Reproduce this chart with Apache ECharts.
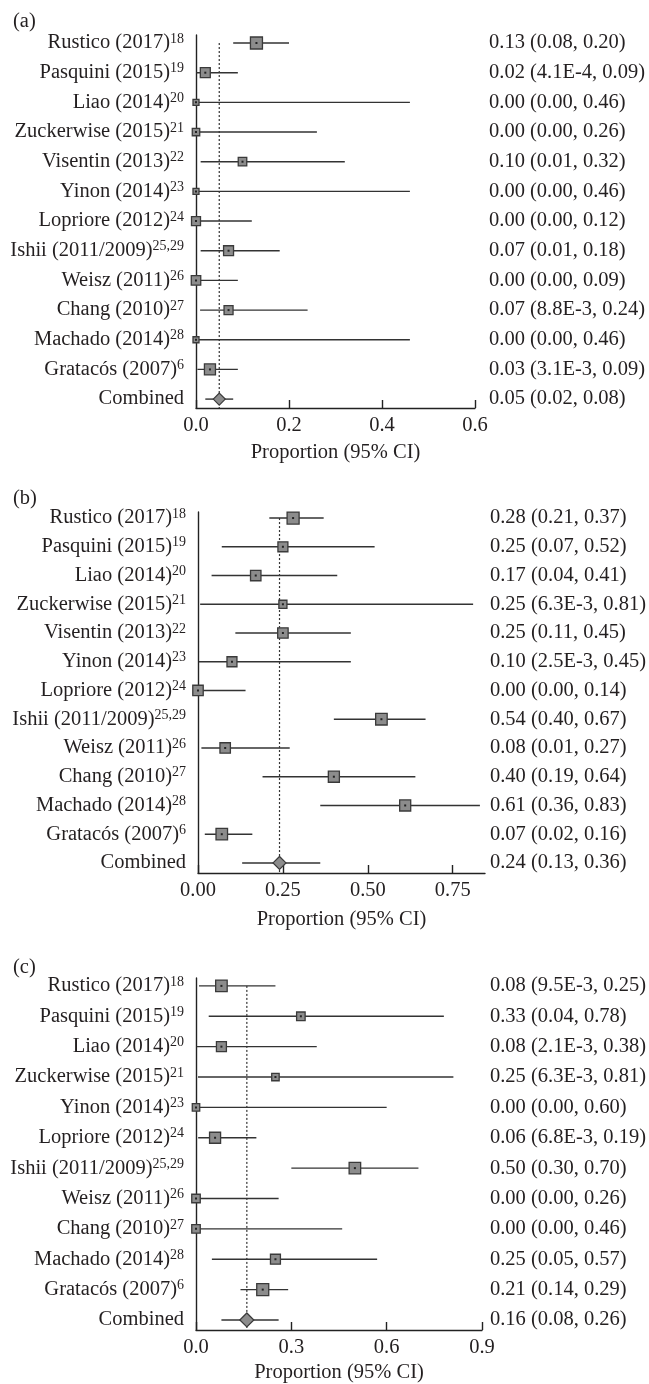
<!DOCTYPE html>
<html>
<head>
<meta charset="utf-8">
<script src="https://cdn.jsdelivr.net/npm/echarts@6/dist/echarts.min.js"></script>
<style>html,body{margin:0;padding:0;background:#fff;}#c{width:649px;height:1384px;}</style>
</head>
<body>
<div id="c"></div>
<script>
// ---------- data ----------
const aStudies = ['Rustico (2017)','Pasquini (2015)','Liao (2014)','Zuckerwise (2015)','Visentin (2013)','Yinon (2014)','Lopriore (2012)','Ishii (2011/2009)','Weisz (2011)','Chang (2010)','Machado (2014)','Gratacós (2007)','Combined'];
const aRefs = ['18','19','20','21','22','23','24','25,29','26','27','28','6',''];
const aEst = [0.13,0.02,0.00,0.00,0.10,0.00,0.00,0.07,0.00,0.07,0.00,0.03,0.05];
const aLo  = [0.08,4.1e-4,0.00,0.00,0.01,0.00,0.00,0.01,0.00,8.8e-3,0.00,3.1e-3,0.02];
const aHi  = [0.20,0.09,0.46,0.26,0.32,0.46,0.12,0.18,0.09,0.24,0.46,0.09,0.08];
const aWeight = [1.0,0.83,0.5,0.62,0.71,0.5,0.75,0.83,0.79,0.75,0.5,0.92,1.0];
const aTicks = [0,0.2,0.4,0.6];

const bStudies = aStudies;
const bRefs = aRefs;
const bEst = [0.28,0.25,0.17,0.25,0.25,0.10,0.00,0.54,0.08,0.40,0.61,0.07,0.24];
const bLo  = [0.21,0.07,0.04,6.3e-3,0.11,2.5e-3,0.00,0.40,0.01,0.19,0.36,0.02,0.13];
const bHi  = [0.37,0.52,0.41,0.81,0.45,0.45,0.14,0.67,0.27,0.64,0.83,0.16,0.36];
const bWeight = [1.0,0.83,0.87,0.67,0.87,0.83,0.87,0.96,0.87,0.92,0.92,0.96,1.08];
const bTicks = [0,0.25,0.5,0.75];

const cStudies = ['Rustico (2017)','Pasquini (2015)','Liao (2014)','Zuckerwise (2015)','Yinon (2014)','Lopriore (2012)','Ishii (2011/2009)','Weisz (2011)','Chang (2010)','Machado (2014)','Gratacós (2007)','Combined'];
const cRefs = ['18','19','20','21','23','24','25,29','26','27','28','6',''];
const cEst = [0.08,0.33,0.08,0.25,0.00,0.06,0.50,0.00,0.00,0.25,0.21,0.16];
const cLo  = [9.5e-3,0.04,2.1e-3,6.3e-3,0.00,6.8e-3,0.30,0.00,0.00,0.05,0.14,0.08];
const cHi  = [0.25,0.78,0.38,0.81,0.60,0.19,0.70,0.26,0.46,0.57,0.29,0.26];
const cWeight = [0.96,0.71,0.83,0.62,0.62,0.92,0.96,0.71,0.71,0.83,1.0,1.17];
const cTicks = [0,0.3,0.6,0.9];

const panelLabels = ['(a)','(b)','(c)'];
const xName = 'Proportion (95% CI)';

// ---------- helpers ----------
const FONT = '"Liberation Serif","DejaVu Serif",serif';
const TXT = '#231f20';
const FS = 20.5;
const BOX = 12;
function fmt(v){
  if (v > 0 && v < 0.01) { return v.toExponential(1).toUpperCase().replace('+',''); }
  return v.toFixed(2);
}
function rightTexts(est, lo, hi){
  return est.map((e,i)=> fmt(e) + ' (' + fmt(lo[i]) + ', ' + fmt(hi[i]) + ')');
}
function leftText(names, refs){
  return names.map((n,i)=> refs[i] ? '{n|' + n + '}{s|' + refs[i] + '}' : '{n|' + n + '}');
}
function rows(n){ return Array.from({length:n},(_,i)=>i); }

const panels = [
  {names:aStudies, refs:aRefs, est:aEst, lo:aLo, hi:aHi, w:aWeight, ticks:aTicks, dec:1,
   grid:{left:196, top:35, width:279, height:373}, xmax:0.6, ymin:-0.27, ymax:12.30, rMargin:14, nameGap:34},
  {names:bStudies, refs:bRefs, est:bEst, lo:bLo, hi:bHi, w:bWeight, ticks:bTicks, dec:2,
   grid:{left:198, top:512, width:290, height:361}, xmax:0.845, ymin:-0.21, ymax:12.35, rMargin:5, nameGap:36},
  {names:cStudies, refs:cRefs, est:cEst, lo:cLo, hi:cHi, w:cWeight, ticks:cTicks, dec:1,
   grid:{left:196, top:978, width:287, height:355}, xmax:0.9, ymin:-0.26, ymax:11.33, rMargin:8, nameGap:32}
];

function renderForest(params, api){
  const est = api.value(0), lo = api.value(1), hi = api.value(2), row = api.value(3), w = api.value(4), comb = api.value(5);
  const pLo = api.coord([lo,row]), pHi = api.coord([hi,row]), p = api.coord([est,row]);
  const s = w * BOX;
  const children = [{type:'line', shape:{x1:pLo[0], y1:pLo[1], x2:pHi[0], y2:pHi[1]}, style:{stroke:'#333', lineWidth:1.4}}];
  if (comb) {
    children.push({type:'polygon', shape:{points:[[p[0]-s/2,p[1]],[p[0],p[1]-s/2],[p[0]+s/2,p[1]],[p[0],p[1]+s/2]]},
      style:{fill:'#8c8c8c', stroke:'#3a3a3a', lineWidth:1.2}});
  } else {
    children.push({type:'rect', shape:{x:p[0]-s/2, y:p[1]-s/2, width:s, height:s},
      style:{fill:'#8c8c8c', stroke:'#3a3a3a', lineWidth:1.3}});
    children.push({type:'rect', shape:{x:p[0]-1, y:p[1]-1, width:2, height:2}, style:{fill:'#222'}});
  }
  return {type:'group', children};
}

const option = {
  animation:false,
  backgroundColor:'#fff',
  title: panelLabels.map((t,i)=>({text:t, left:13, top:[11,488,957][i], padding:0,
    textStyle:{fontFamily:FONT, fontSize:FS, fontWeight:'normal', color:TXT}})),
  grid: panels.map(p=>p.grid),
  xAxis: panels.map((p,i)=>({
    type:'value', gridIndex:i, min:0, max:p.xmax, position:'bottom',
    name:xName, nameLocation:'middle', nameGap:p.nameGap,
    nameTextStyle:{fontFamily:FONT, fontSize:FS, color:TXT},
    axisLine:{show:true, onZero:false, lineStyle:{color:'#222', width:1.4}},
    axisTick:{show:true, inside:true, length:8, lineStyle:{color:'#222', width:1.4}, customValues:p.ticks},
    axisLabel:{fontFamily:FONT, fontSize:FS, color:TXT, margin:7, customValues:p.ticks,
      formatter:(v)=>Number(v).toFixed(p.dec)},
    splitLine:{show:false}
  })),
  yAxis: panels.flatMap((p,i)=>{
    const left = leftText(p.names, p.refs);
    const right = rightTexts(p.est, p.lo, p.hi);
    const r = rows(p.names.length);
    return [
      {type:'value', gridIndex:i, inverse:true, min:p.ymin, max:p.ymax, position:'left',
       axisLine:{show:true, onZero:false, lineStyle:{color:'#222', width:1.4}},
       axisTick:{show:false}, splitLine:{show:false},
       axisLabel:{customValues:r, margin:12, formatter:(v)=>left[Math.round(v)],
         rich:{n:{fontFamily:FONT, fontSize:FS, color:TXT, lineHeight:22},
               s:{fontFamily:FONT, fontSize:14, color:TXT, lineHeight:13, verticalAlign:'top'}}}},
      {type:'value', gridIndex:i, inverse:true, min:p.ymin, max:p.ymax, position:'right',
       axisLine:{show:false, onZero:false}, axisTick:{show:false}, splitLine:{show:false},
       axisLabel:{customValues:r, margin:p.rMargin, align:'left', fontFamily:FONT, fontSize:FS, color:TXT,
         formatter:(v)=>right[Math.round(v)]}}
    ];
  }),
  series: panels.flatMap((p,i)=>{
    const last = p.names.length - 1;
    const data = p.est.map((e,k)=>[e, p.lo[k], p.hi[k], k, p.w[k], k===last?1:0]);
    return [
      {type:'line', xAxisIndex:i, yAxisIndex:2*i, symbol:'none', silent:true, z:1,
       data:[[p.est[last], 0], [p.est[last], p.ymax]],
       lineStyle:{color:'#333', width:1.2, type:[2,2]}},
      {type:'custom', xAxisIndex:i, yAxisIndex:2*i, renderItem:renderForest, z:2,
       encode:{x:[0,1,2], y:3}, data:data}
    ];
  })
};
const chart = echarts.init(document.getElementById('c'), null, {renderer:'canvas'});
chart.setOption(option);
</script>
</body>
</html>
